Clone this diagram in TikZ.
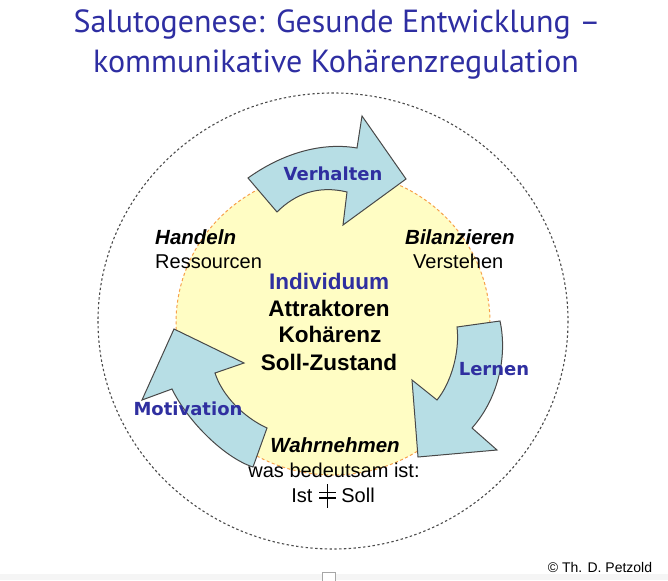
\documentclass[tikz,border=0pt]{standalone}
\usepackage{fontspec}
\setmainfont{Liberation Sans}
\newfontfamily\titlefont{PT Sans}
\newfontfamily\verd{DejaVu Sans}
\definecolor{arrowblue}{HTML}{B7DEE5}
\definecolor{arrowline}{HTML}{484848}
\definecolor{yellowfill}{HTML}{FFFDC4}
\definecolor{orangedash}{HTML}{F7A04A}
\definecolor{labblue}{HTML}{2F2FA0}
\definecolor{titleblue}{HTML}{2E2EA2}
\tikzset{
  blk/.style={fill=arrowblue, draw=arrowline, line width=1pt, line join=miter},
  lbl/.style={anchor=base, inner sep=0pt, text=labblue, font=\verd\bfseries\fontsize{18}{20}\selectfont},
  txt/.style={anchor=base, inner sep=0pt, font=\fontsize{20}{24}\selectfont},
  txtw/.style={anchor=base west, inner sep=0pt, font=\fontsize{20}{24}\selectfont},
  hdw/.style={anchor=base west, inner sep=0pt, font=\bfseries\itshape\fontsize{20.5}{24}\selectfont},
  hd/.style={anchor=base, inner sep=0pt, font=\bfseries\itshape\fontsize{20.5}{24}\selectfont},
  ctr/.style={anchor=base, inner sep=0pt, font=\bfseries\fontsize{22.5}{26}\selectfont},
  ttl/.style={anchor=base, inner sep=0pt, text=titleblue, font=\titlefont\fontsize{32}{36}\selectfont},
  sym/.style={line width=1.8pt, draw=black}
}
\begin{document}
\begin{tikzpicture}[x=1pt,y=-1pt]
\useasboundingbox (0,0) rectangle (668,580);
\fill[white] (0,0) rectangle (668,580);
% bottom strip and checkbox
\fill[gray!8] (0,574) rectangle (668,580);
\draw[gray!70, fill=white, line width=0.6pt] (322,572) rectangle (335,584);

% title
\node[ttl] (t1) at (337,33) {Salutogenese: Gesunde Entwicklung –};
\node[ttl] (t2) at (336,73) {kommunikative Kohärenzregulation};

% outer dashed circle
\draw[draw=gray!60!black, line width=1.1pt, dash pattern=on 2.4pt off 2.4pt] (333,321) ellipse [x radius=235, y radius=228];

% yellow circle
\draw[fill=yellowfill, draw=orangedash, line width=1pt, dash pattern=on 3pt off 2.5pt] (333,323) ellipse [x radius=157, y radius=152];

% arrows
\draw[blk] (248,178) .. controls (283,153) and (322,142) .. (357,148)
  -- (362,116) -- (406,179) -- (343,225) -- (347,192)
  .. controls (318,185) and (295,194) .. (277,212) -- cycle;
\draw[blk] (457,327) -- (500,321) .. controls (508,358) and (497,400) .. (472,428)
  -- (497,450) -- (418,457) -- (412,380) -- (437,400)
  .. controls (451,383) and (460,352) .. (457,327) -- cycle;
\draw[blk] (267,428) -- (253,467) .. controls (225,458) and (188,422) .. (172,389)
  -- (142,400) -- (174,329) -- (244,363) -- (215,373)
  .. controls (222,395) and (243,417) .. (267,428) -- cycle;

% arrow labels
\node[lbl] (verhalten) at (333,180) {Verhalten};
\node[lbl] (lernen) at (494,375) {Lernen};
\node[lbl] (motivation) at (188,415) {Motivation};

% side texts
\node[hdw] (handeln) at (155,244) {Handeln};
\node[txtw] (ressourcen) at (155,268) {Ressourcen};
\node[hdw] (bilanzieren) at (405,244) {Bilanzieren};
\node[txtw] (verstehen) at (413,268) {Verstehen};

% centre
\node[ctr, text=labblue] (individuum) at (329,289) {Individuum};
\node[ctr] (attraktoren) at (329,316) {Attraktoren};
\node[ctr] (kohaerenz) at (330,342) {Kohärenz};
\node[ctr] (soll) at (329,370) {Soll-Zustand};

% bottom
\node[hd] (wahrnehmen) at (335,452) {Wahrnehmen};
\node[txt] (bedeutsam) at (334,477) {was bedeutsam ist:};
\node[txt] (istsoll) at (333,502) {Ist\hspace{1.45em}Soll};
% not-equal sign drawn between the words
\draw[sym] (327.5,484) -- (327.5,508);
\draw[sym, line width=1.4pt] (319,492.5) -- (336,492.5);
\draw[sym, line width=1.4pt] (319,498) -- (336,498);

% copyright
\node[anchor=base, inner sep=0pt, font=\fontsize{14}{16}\selectfont] (copy) at (600,572) {© Th. D. Petzold};
\end{tikzpicture}
\end{document}
